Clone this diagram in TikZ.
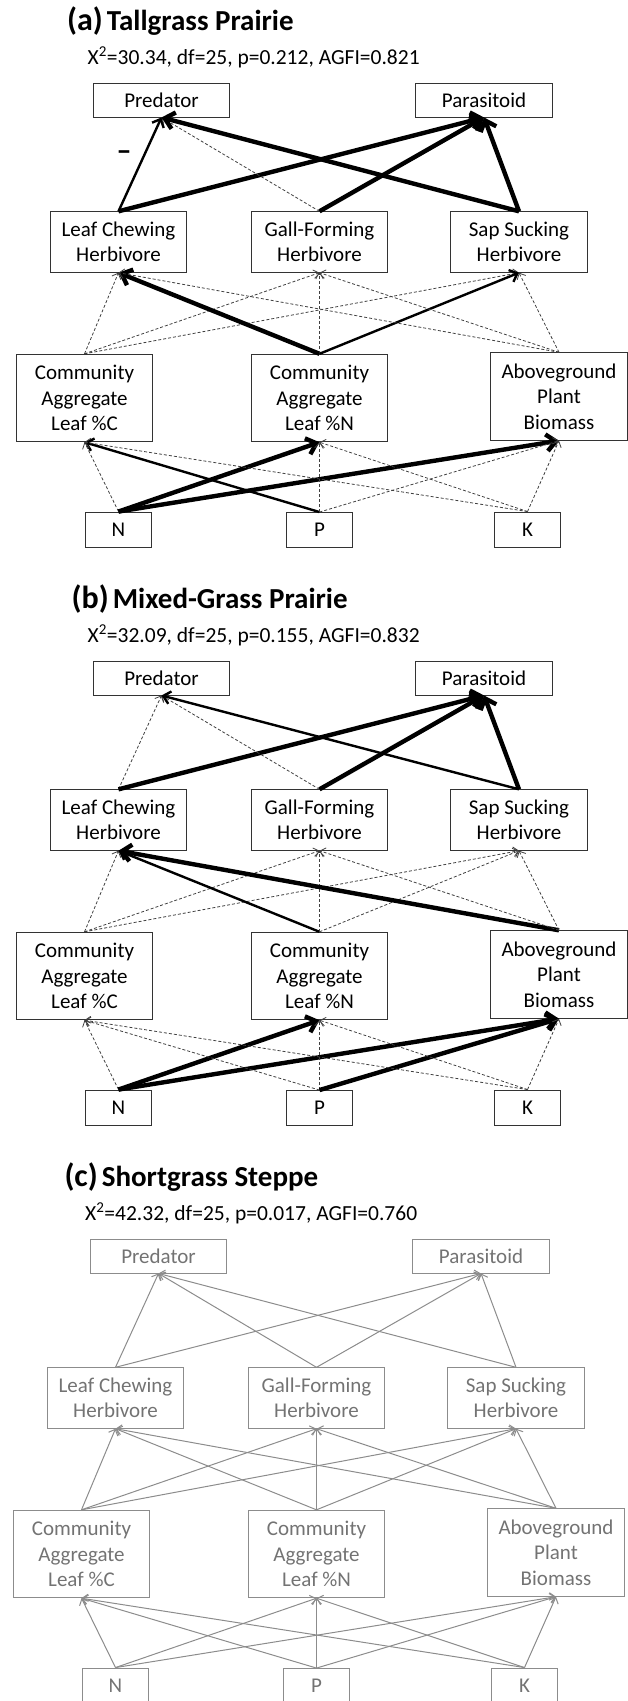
\documentclass[tikz,border=0pt]{standalone}
\usepackage{fontspec}
\setmainfont{Carlito}
\usetikzlibrary{arrows.meta}

\begin{document}
\begin{tikzpicture}[x=1pt,y=-1pt,
  box/.style={draw,line width=0.9pt,inner sep=0pt,align=center,font=\fontsize{21}{25.5}\selectfont},
  toprow/.style={box,minimum width=136.5pt,minimum height=34pt},
  herb/.style={box,minimum width=136.5pt,minimum height=60.5pt},
  plant/.style={box,minimum width=136.5pt,minimum height=87.5pt},
  nutr/.style={box,minimum width=65.5pt,minimum height=35pt},
  arr/.style={-{Straight Barb[length=4pt 1.2,width=8pt 2]}},
  dsh/.style={arr,draw=black!75,line width=0.8pt,dash pattern=on 3pt off 2pt},
  med/.style={arr,line width=2.4pt},
  thk/.style={arr,line width=4.4pt},
  gry/.style={arr,draw=black!45,line width=1pt},
  title/.style={anchor=base west,inner sep=0pt,font=\bfseries\fontsize{29}{32}\selectfont},
  fit/.style={anchor=base west,inner sep=0pt,font=\fontsize{21.5}{25}\selectfont}]
\useasboundingbox (0,0) rectangle (628,1701);

% headings
\node[title] (a-title) at (67,30.7) {{\fontsize{32}{34}\selectfont(a)}\hspace{4pt}Tallgrass Prairie};
\node[fit] (a-fit) at (87.5,64) {X\textsuperscript{2}=30.34, df=25, p=0.212, AGFI=0.821};
\node[title] (b-title) at (71.5,608.7) {{\fontsize{32}{34}\selectfont(b)}\hspace{4pt}Mixed-Grass Prairie};
\node[fit] (b-fit) at (87.5,642) {X\textsuperscript{2}=32.09, df=25, p=0.155, AGFI=0.832};
\node[title] (c-title) at (64.3,1186.7) {{\fontsize{32}{34}\selectfont(c)}\hspace{4pt}Shortgrass Steppe};
\node[fit] (c-fit) at (85,1220) {X\textsuperscript{2}=42.32, df=25, p=0.017, AGFI=0.760};

% the same boxes in each panel
\foreach \p/\dx/\dy/\tc/\dc in {a/0/0/black/black!80, b/0/578/black/black!80, c/-3/1156/black!55/black!45}{
\begin{scope}[shift={(\dx,\dy)},every node/.append style={text=\tc,draw=\dc}]
\node[toprow] (\p-pred) at (161.5,100) {Predator};
\node[toprow] (\p-para) at (484,100) {Parasitoid};
\node[herb] (\p-lc) at (118.5,242) {Leaf Chewing\\Herbivore};
\node[herb] (\p-gf) at (319.5,242) {Gall-Forming\\Herbivore};
\node[herb] (\p-ss) at (519,242) {Sap Sucking\\Herbivore};
\node[plant] (\p-pc) at (84.5,398) {Community\\Aggregate\\Leaf \%C};
\node[plant] (\p-pn) at (319.5,398) {Community\\Aggregate\\Leaf \%N};
\node[plant] (\p-ab) at (559,396.5) {Aboveground\\Plant\\Biomass};
\node[nutr] (\p-n) at (118.5,529.5) {N};
\node[nutr] (\p-p) at (319.5,530) {P};
\node[nutr] (\p-k) at (527.5,529.5) {K};
\end{scope}
}

% (a)
\draw[med] (a-lc.north) -- (a-pred.south);
\draw[thk] (a-lc.north) -- (a-para.south);
\draw[dsh] (a-gf.north) -- (a-pred.south);
\draw[thk] (a-gf.north) -- (a-para.south);
\draw[thk] (a-ss.north) -- (a-pred.south);
\draw[thk] (a-ss.north) -- (a-para.south);
\node[inner sep=0pt,font=\bfseries\fontsize{30}{30}\selectfont] (a-minus) at (124,156) {--};
\draw[dsh] (a-pc.north) -- (a-lc.south);
\draw[dsh] (a-pc.north) -- (a-gf.south);
\draw[dsh] (a-pc.north) -- (a-ss.south);
\draw[thk] (a-pn.north) -- (a-lc.south);
\draw[dsh] (a-pn.north) -- (a-gf.south);
\draw[med] (a-pn.north) -- (a-ss.south);
\draw[dsh] (a-ab.north) -- (a-lc.south);
\draw[dsh] (a-ab.north) -- (a-gf.south);
\draw[dsh] (a-ab.north) -- (a-ss.south);
\draw[dsh] (a-n.north) -- (a-pc.south);
\draw[thk] (a-n.north) -- (a-pn.south);
\draw[thk] (a-n.north) -- (a-ab.south);
\draw[med] (a-p.north) -- (a-pc.south);
\draw[dsh] (a-p.north) -- (a-pn.south);
\draw[dsh] (a-p.north) -- (a-ab.south);
\draw[dsh] (a-k.north) -- (a-pc.south);
\draw[dsh] (a-k.north) -- (a-pn.south);
\draw[dsh] (a-k.north) -- (a-ab.south);

% (b)
\draw[dsh] (b-lc.north) -- (b-pred.south);
\draw[thk] (b-lc.north) -- (b-para.south);
\draw[dsh] (b-gf.north) -- (b-pred.south);
\draw[thk] (b-gf.north) -- (b-para.south);
\draw[med] (b-ss.north) -- (b-pred.south);
\draw[thk] (b-ss.north) -- (b-para.south);
\draw[dsh] (b-pc.north) -- (b-lc.south);
\draw[dsh] (b-pc.north) -- (b-gf.south);
\draw[dsh] (b-pc.north) -- (b-ss.south);
\draw[med] (b-pn.north) -- (b-lc.south);
\draw[dsh] (b-pn.north) -- (b-gf.south);
\draw[dsh] (b-pn.north) -- (b-ss.south);
\draw[thk] (b-ab.north) -- (b-lc.south);
\draw[dsh] (b-ab.north) -- (b-gf.south);
\draw[dsh] (b-ab.north) -- (b-ss.south);
\draw[dsh] (b-n.north) -- (b-pc.south);
\draw[thk] (b-n.north) -- (b-pn.south);
\draw[thk] (b-n.north) -- (b-ab.south);
\draw[dsh] (b-p.north) -- (b-pc.south);
\draw[dsh] (b-p.north) -- (b-pn.south);
\draw[thk] (b-p.north) -- (b-ab.south);
\draw[dsh] (b-k.north) -- (b-pc.south);
\draw[dsh] (b-k.north) -- (b-pn.south);
\draw[dsh] (b-k.north) -- (b-ab.south);

% (c) every path drawn, all grey
\foreach \s in {lc,gf,ss}{\foreach \t in {pred,para}{\draw[gry] (c-\s.north) -- (c-\t.south);}}
\foreach \s in {pc,pn,ab}{\foreach \t in {lc,gf,ss}{\draw[gry] (c-\s.north) -- (c-\t.south);}}
\foreach \s in {n,p,k}{\foreach \t in {pc,pn,ab}{\draw[gry] (c-\s.north) -- (c-\t.south);}}
\end{tikzpicture}
\end{document}
